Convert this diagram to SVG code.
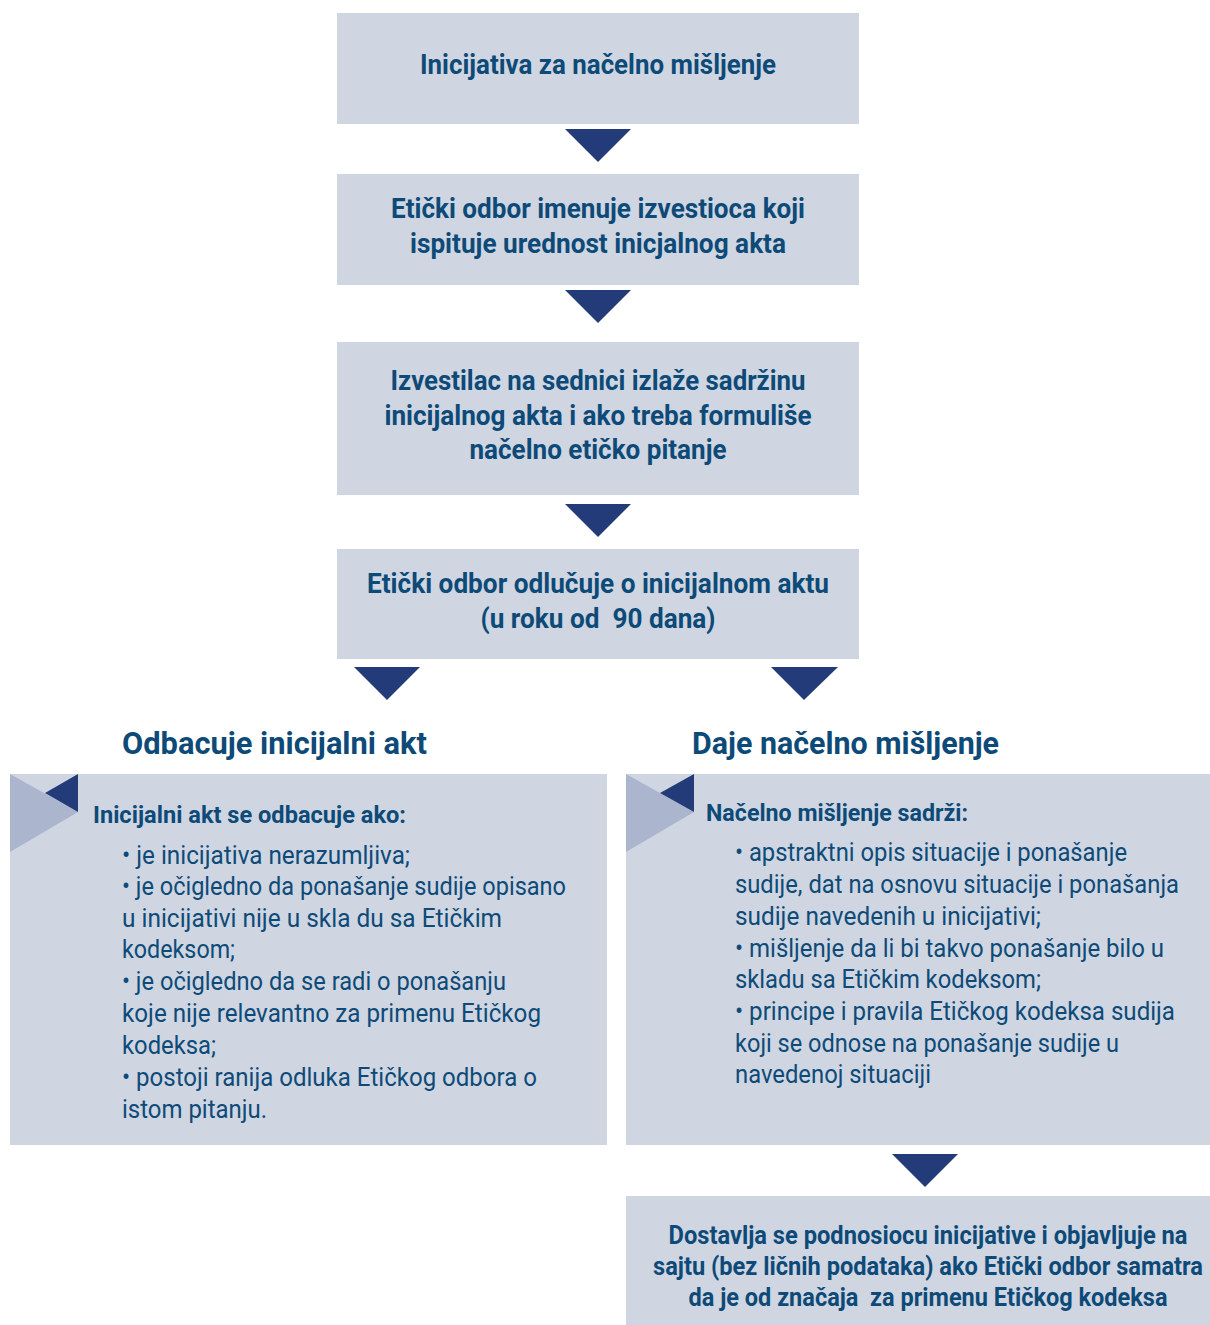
<svg xmlns="http://www.w3.org/2000/svg" width="1210" height="1325" viewBox="0 0 1210 1325">
<style>
.box{fill:#cfd6e2}
.arr{fill:#243b7a}
.lt{fill:#abb6ce}
text{font-family:Roboto,"Liberation Sans",sans-serif;fill:#0e4a78}
.b{font-weight:bold;font-size:27px;text-anchor:middle}
.h{font-weight:bold;font-size:31px}
.t{font-weight:bold;font-size:23px}
.p{font-size:25px}
.f{font-weight:bold;font-size:25px;text-anchor:middle}
.pre{white-space:pre}
</style>
<rect width="1210" height="1325" fill="#ffffff"/>
<g id="connectors">
<polygon class="arr" points="565,129 631,129 598,162"/>
<polygon class="arr" points="565,290 631,290 598,323"/>
<polygon class="arr" points="565,504 631,504 598,537"/>
<polygon class="arr" points="354,667 420,667 387,700"/>
<polygon class="arr" points="771,667 838,667 804,700"/>
<polygon class="arr" points="892,1154 958,1154 925,1187"/>
</g>
<g id="n1">
<rect class="box" x="337" y="13" width="522" height="111"/>
<text class="b" x="598" y="74" textLength="356" lengthAdjust="spacingAndGlyphs">Inicijativa za načelno mišljenje</text>
</g>
<g id="n2">
<rect class="box" x="337" y="174" width="522" height="111"/>
<text class="b" x="598" y="218" textLength="414" lengthAdjust="spacingAndGlyphs">Etički odbor imenuje izvestioca koji</text>
<text class="b" x="598" y="253" textLength="376" lengthAdjust="spacingAndGlyphs">ispituje urednost inicjalnog akta</text>
</g>
<g id="n3">
<rect class="box" x="337" y="342" width="522" height="153"/>
<text class="b" x="598" y="390" textLength="415" lengthAdjust="spacingAndGlyphs">Izvestilac na sednici izlaže sadržinu</text>
<text class="b" x="598" y="425" textLength="427" lengthAdjust="spacingAndGlyphs">inicijalnog akta i ako treba formuliše</text>
<text class="b" x="598" y="459" textLength="257" lengthAdjust="spacingAndGlyphs">načelno etičko pitanje</text>
</g>
<g id="n4">
<rect class="box" x="337" y="549" width="522" height="110"/>
<text class="b" x="598" y="593" textLength="462" lengthAdjust="spacingAndGlyphs">Etički odbor odlučuje o inicijalnom aktu</text>
<text class="b pre" x="598" y="628" textLength="235" lengthAdjust="spacingAndGlyphs" xml:space="preserve">(u roku od  90 dana)</text>
</g>
<g id="h-left">
<text class="h" x="122" y="754" textLength="305" lengthAdjust="spacingAndGlyphs">Odbacuje inicijalni akt</text>
</g>
<g id="h-right">
<text class="h" x="692" y="754" textLength="307" lengthAdjust="spacingAndGlyphs">Daje načelno mišljenje</text>
</g>
<g id="left-box">
<rect class="box" x="10" y="774" width="597" height="371"/>
<polygon class="lt" points="10,774 78,812 10,852"/>
<polygon class="arr" points="78,774 45,793 78,812"/>
<text class="t" x="93" y="823" textLength="313" lengthAdjust="spacingAndGlyphs">Inicijalni akt se odbacuje ako:</text>
<text class="p" x="122" y="864" textLength="288" lengthAdjust="spacingAndGlyphs">• je inicijativa nerazumljiva;</text>
<text class="p" x="122" y="895" textLength="444" lengthAdjust="spacingAndGlyphs">• je očigledno da ponašanje sudije opisano</text>
<text class="p" x="122" y="927" textLength="380" lengthAdjust="spacingAndGlyphs">u inicijativi nije u skla du sa Etičkim</text>
<text class="p" x="122" y="958" textLength="113" lengthAdjust="spacingAndGlyphs">kodeksom;</text>
<text class="p" x="122" y="990" textLength="384" lengthAdjust="spacingAndGlyphs">• je očigledno da se radi o ponašanju</text>
<text class="p" x="122" y="1022" textLength="419" lengthAdjust="spacingAndGlyphs">koje nije relevantno za primenu Etičkog</text>
<text class="p" x="122" y="1054" textLength="94" lengthAdjust="spacingAndGlyphs">kodeksa;</text>
<text class="p" x="122" y="1086" textLength="415" lengthAdjust="spacingAndGlyphs">• postoji ranija odluka Etičkog odbora o</text>
<text class="p" x="122" y="1118" textLength="145" lengthAdjust="spacingAndGlyphs">istom pitanju.</text>
</g>
<g id="right-box">
<rect class="box" x="626" y="774" width="584" height="371"/>
<polygon class="lt" points="626,774 694,812 626,852"/>
<polygon class="arr" points="694,774 660,793 694,812"/>
<text class="t" x="706" y="821" textLength="262" lengthAdjust="spacingAndGlyphs">Načelno mišljenje sadrži:</text>
<text class="p" x="735" y="861" textLength="392" lengthAdjust="spacingAndGlyphs">• apstraktni opis situacije i ponašanje</text>
<text class="p" x="735" y="893" textLength="444" lengthAdjust="spacingAndGlyphs">sudije, dat na osnovu situacije i ponašanja</text>
<text class="p" x="735" y="925" textLength="306" lengthAdjust="spacingAndGlyphs">sudije navedenih u inicijativi;</text>
<text class="p" x="735" y="957" textLength="429" lengthAdjust="spacingAndGlyphs">• mišljenje da li bi takvo ponašanje bilo u</text>
<text class="p" x="735" y="988" textLength="306" lengthAdjust="spacingAndGlyphs">skladu sa Etičkim kodeksom;</text>
<text class="p" x="735" y="1020" textLength="440" lengthAdjust="spacingAndGlyphs">• principe i pravila Etičkog kodeksa sudija</text>
<text class="p" x="735" y="1052" textLength="384" lengthAdjust="spacingAndGlyphs">koji se odnose na ponašanje sudije u</text>
<text class="p" x="735" y="1083" textLength="196" lengthAdjust="spacingAndGlyphs">navedenoj situaciji</text>
</g>
<g id="n-final">
<rect class="box" x="626" y="1196" width="584" height="129"/>
<text class="f" x="928" y="1244" textLength="519" lengthAdjust="spacingAndGlyphs">Dostavlja se podnosiocu inicijative i objavljuje na</text>
<text class="f" x="928" y="1275" textLength="550" lengthAdjust="spacingAndGlyphs">sajtu (bez ličnih podataka) ako Etički odbor samatra</text>
<text class="f pre" x="928" y="1306" textLength="479" lengthAdjust="spacingAndGlyphs" xml:space="preserve">da je od značaja  za primenu Etičkog kodeksa</text>
</g>
</svg>
